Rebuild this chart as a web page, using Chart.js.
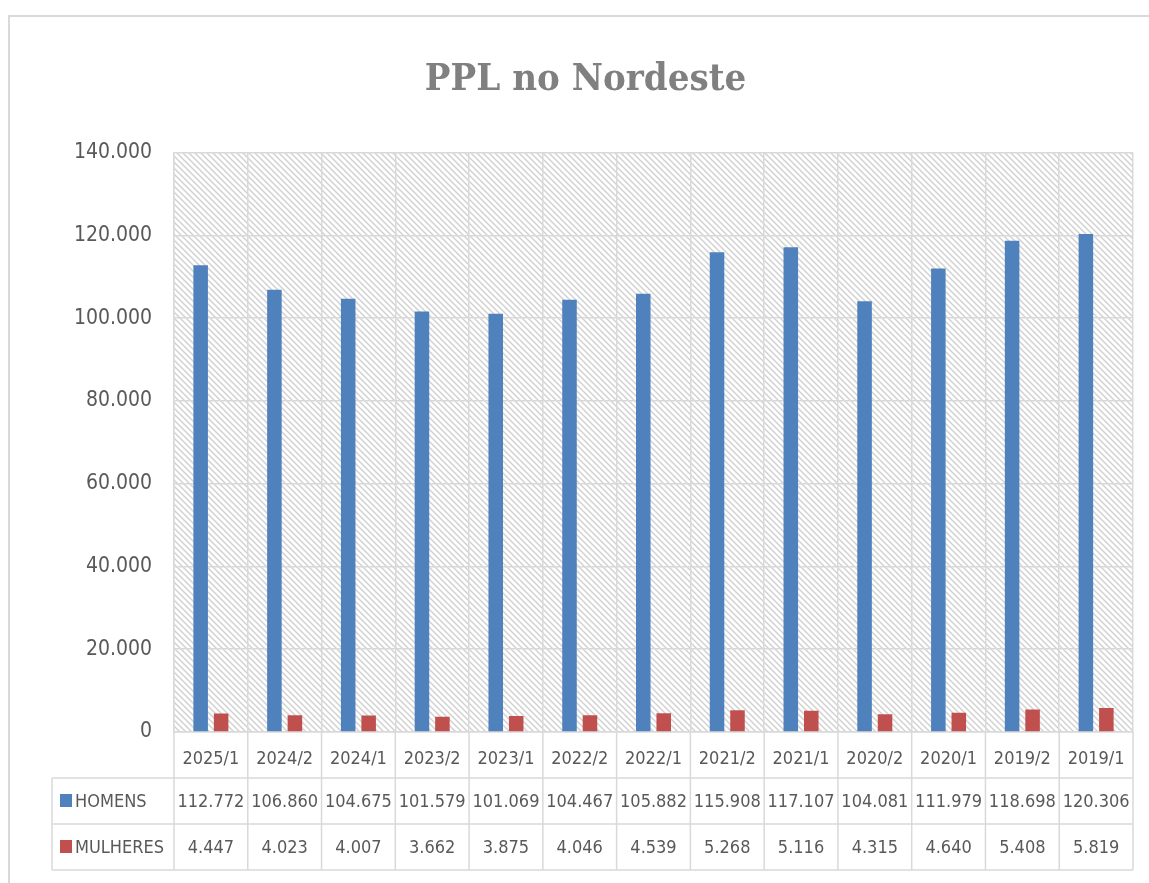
<!DOCTYPE html>
<html>
<head>
  <meta charset="utf-8">
  <title>PPL no Nordeste</title>
  <script src="https://cdn.jsdelivr.net/npm/chart.js@4"></script>
  <style>
    body { margin: 0; background: #fff; }
    #wrap { width: 1149px; height: 883px; }
  </style>
</head>
<body>
<div id="wrap"><canvas id="pplChart" width="1149" height="883"></canvas></div>
<script>
  // data (semestres, mais recente primeiro)
  var categories = ['2025/1', '2024/2', '2024/1', '2023/2', '2023/1', '2022/2', '2022/1',
                    '2021/2', '2021/1', '2020/2', '2020/1', '2019/2', '2019/1'];
  var homens   = [112772, 106860, 104675, 101579, 101069, 104467, 105882, 115908, 117107, 104081, 111979, 118698, 120306];
  var mulheres = [4447, 4023, 4007, 3662, 3875, 4046, 4539, 5268, 5116, 4315, 4640, 5408, 5819];
  var seriesNames = ['HOMENS', 'MULHERES'];
  var yMax = 140000;
  var yStep = 20000;

  var textColor = '#595959';
  var lineColor = '#d9d9d9';
  var narrow = "'Liberation Sans Narrow', 'DejaVu Sans Condensed', 'DejaVu Sans', sans-serif";

  // 1.234 style thousands
  function fmt(v) {
    return String(v).replace(/\B(?=(\d{3})+(?!\d))/g, '.');
  }

  function makeHatch() {
    var c = document.createElement('canvas');
    c.width = 6; c.height = 6;
    var g = c.getContext('2d');
    g.fillStyle = '#ffffff';
    g.fillRect(0, 0, 6, 6);
    g.strokeStyle = '#d0d0d0';
    g.lineWidth = 1.4;
    g.beginPath();
    g.moveTo(-1, -1); g.lineTo(7, 7);
    g.moveTo(-1, 5); g.lineTo(1, 7);
    g.moveTo(5, -1); g.lineTo(7, 1);
    g.stroke();
    return g.createPattern(c, 'repeat');
  }
  var hatch = makeHatch();

  // frame, hatched plot area and the data table under the axis
  var frameAndTable = {
    id: 'frameAndTable',
    beforeDraw: function(chart) {
      var ctx = chart.ctx, a = chart.chartArea;
      ctx.save();
      ctx.strokeStyle = lineColor;
      ctx.lineWidth = 2;
      ctx.strokeRect(9, 16, 1200, 900);
      ctx.fillStyle = hatch;
      ctx.fillRect(a.left, a.top, a.right - a.left, a.bottom - a.top);
      ctx.restore();
    },
    afterDraw: function(chart) {
      var ctx = chart.ctx, a = chart.chartArea, xs = chart.scales.x;
      var rowH = 46;
      var r1 = a.bottom + rowH, r2 = r1 + rowH, r3 = r2 + rowH;
      var keyLeft = 52;
      var half = (xs.getPixelForValue(1) - xs.getPixelForValue(0)) / 2;

      ctx.save();
      ctx.strokeStyle = lineColor;
      ctx.lineWidth = 1.5;
      ctx.beginPath();
      // horizontal rules
      [r1, r2, r3].forEach(function(y) {
        ctx.moveTo(keyLeft, y); ctx.lineTo(a.right, y);
      });
      // left edge of the key column
      ctx.moveTo(keyLeft, r1); ctx.lineTo(keyLeft, r3);
      // column separators continue down from the plot
      for (var i = 0; i < categories.length; i++) {
        var xb = xs.getPixelForValue(i) - half;
        ctx.moveTo(xb, a.bottom); ctx.lineTo(xb, r3);
      }
      ctx.moveTo(a.right, a.bottom); ctx.lineTo(a.right, r3);
      ctx.stroke();

      ctx.font = '18px ' + narrow;
      ctx.fillStyle = textColor;
      ctx.textBaseline = 'middle';
      chart.data.datasets.forEach(function(ds, d) {
        var cy = (d === 0 ? r1 : r2) + rowH / 2;
        ctx.fillStyle = ds.backgroundColor;
        ctx.fillRect(keyLeft + 8, cy - 7, 12, 13);
        ctx.fillStyle = textColor;
        ctx.textAlign = 'left';
        ctx.fillText(seriesNames[d], keyLeft + 23, cy + 1);
        ctx.textAlign = 'center';
        ds.data.forEach(function(v, i) {
          ctx.fillText(fmt(v), xs.getPixelForValue(i), cy + 1);
        });
      });
      ctx.restore();
    }
  };

  var ctx = document.getElementById('pplChart').getContext('2d');
  var pplChart = new Chart(ctx, {
    type: 'bar',
    data: {
      labels: categories,
      datasets: [{
        label: seriesNames[0],
        data: homens,
        backgroundColor: '#4F81BD'
      }, {
        label: seriesNames[1],
        data: mulheres,
        backgroundColor: '#C0504D'
      }]
    },
    options: {
      responsive: false,
      animation: false,
      categoryPercentage: 0.555,
      barPercentage: 0.71,
      layout: { padding: { left: 38, right: 16, top: 0, bottom: 0 } },
      plugins: {
        legend: { display: false },
        tooltip: { enabled: false },
        title: {
          display: true,
          text: 'PPL no Nordeste',
          color: '#808080',
          font: { family: "'DejaVu Serif Condensed', 'DejaVu Serif', serif", size: 38, weight: 'bold', lineHeight: 1.2 },
          padding: { top: 57, bottom: 50 }
        }
      },
      scales: {
        x: {
          grid: { color: lineColor, lineWidth: 1.5, offset: true, drawTicks: false },
          border: { color: lineColor, width: 1.5 },
          ticks: { color: textColor, font: { family: narrow, size: 18 }, padding: 17, maxRotation: 0 },
          afterFit: function(scale) { scale.height = 151; }
        },
        y: {
          min: 0,
          max: yMax,
          grid: { color: lineColor, lineWidth: 1.5, drawTicks: false },
          border: { color: lineColor, width: 1.5 },
          ticks: {
            stepSize: yStep,
            color: textColor,
            padding: 22,
            font: { family: narrow, size: 21 },
            callback: function(v) { return fmt(v); }
          },
          afterFit: function(scale) { scale.width = 136; }
        }
      }
    },
    plugins: [frameAndTable]
  });
</script>
</body>
</html>
